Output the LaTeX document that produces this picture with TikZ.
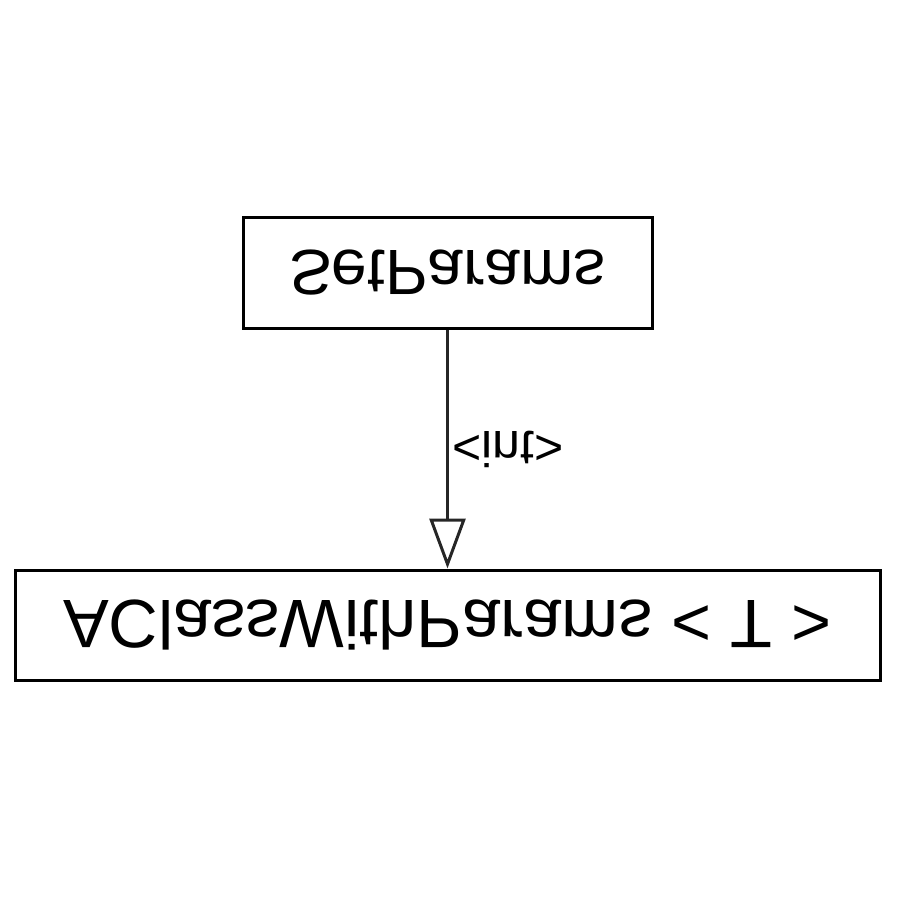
\documentclass[tikz,border=0pt]{standalone}
\usepackage{fontspec}
\setmainfont{Liberation Sans}
\usetikzlibrary{arrows.meta}
\newcommand{\flipv}[1]{\scalebox{1}[-1]{#1}}
\tikzset{
  classbox/.style={draw=black, line width=3pt, fill=white, inner sep=0pt, anchor=center, font=\fontsize{64}{64}\selectfont},
  inherit/.style={draw=black!85, line width=3pt, -{Triangle[open, length=50pt, width=36pt, line width=3pt]}},
  edgelabel/.style={font=\fontsize{50}{50}\selectfont, inner sep=0pt, anchor=west}
}
\begin{document}
\begin{tikzpicture}[x=1pt, y=-1pt]
\useasboundingbox (0,0) rectangle (900,900);
\node[classbox, minimum width=409pt, minimum height=111pt] (sp) at (447.5,272.5) {\flipv{SetParams}};
\node[classbox, minimum width=865pt, minimum height=110pt, font=\fontsize{68.5}{68.5}\selectfont] (ac) at (447.5,625) {\flipv{AClassWithParams < T >}};
\draw[inherit] (sp.south) -- (ac.north) node[pos=0.5, edgelabel, xshift=3pt] (lbl) {\flipv{<int>}};
\end{tikzpicture}
\end{document}
